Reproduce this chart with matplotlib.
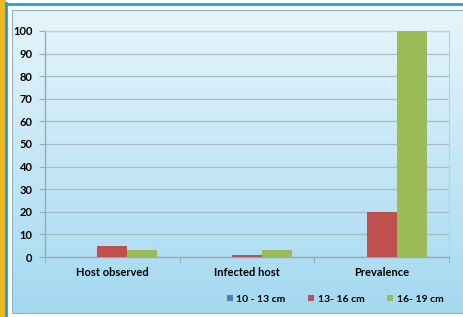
import matplotlib
matplotlib.use("Agg")
import matplotlib.pyplot as plt
import matplotlib.patches as patches
import numpy as np

plt.rcParams["font.family"] = ["Lato", "DejaVu Sans"]

categories = ["Host observed", "Infected host", "Prevalence"]
series_names = ["10 - 13 cm", "13- 16 cm", "16- 19 cm"]
size_10_13 = [0, 0, 0]
size_13_16 = [5, 1, 20]
size_16_19 = [3, 3, 100]
colors = ["#4f81bd", "#c0504d", "#9bbb59"]

W, H = 464, 317
fig = plt.figure(figsize=(W / 100, H / 100), dpi=100)

# background frame: yellow strip, blue border, gradient panel
bg = fig.add_axes([0, 0, 1, 1])
bg.set_xlim(0, W)
bg.set_ylim(H, 0)
bg.axis("off")
bg.add_patch(patches.Rectangle((0, 0), W, H, color="white", zorder=0))
grad = np.linspace(0, 1, 256).reshape(-1, 1)
top_c = np.array([0.90, 0.96, 0.985])
bot_c = np.array([0.64, 0.85, 0.94])
img = top_c + (bot_c - top_c) * grad[:, :, None]
img = img.reshape(256, 1, 3)
bg.imshow(img, extent=(12, W, 313, 10), aspect="auto", zorder=1)
bg.add_patch(patches.Rectangle((12, 10), W - 12, 303, fill=False,
                               edgecolor="#8fb4c4", lw=0.8, zorder=2))
bg.add_patch(patches.Rectangle((0, 0), 5.5, H, color="#f0b81c", zorder=3))
bg.plot([6, 6], [3, H], color="#1aa0dc", lw=2, zorder=3)
bg.plot([6, W], [4, 4], color="#1aa0dc", lw=2, zorder=3)

ax = fig.add_axes([45 / W, 1 - 257 / H, (449 - 45) / W, (257 - 31) / H])
ax.patch.set_alpha(0)

x = np.arange(len(categories))
w = 0.223
for i, (vals, name) in enumerate(zip([size_10_13, size_13_16, size_16_19], series_names)):
    ax.bar(x + (i - 1) * w, vals, w, color=colors[i], label=name, zorder=3)

ax.set_xlim(-0.5, 2.5)
ax.set_ylim(0, 100)
ax.set_yticks(range(0, 101, 10))
ax.yaxis.grid(True, color="#a9bcc4", lw=0.9, zorder=0)
ax.set_xticks(x)
ax.set_xticklabels(categories, fontsize=8, fontweight="bold")
ax.set_xticks([-0.5, 0.5, 1.5, 2.5], minor=True)
ax.tick_params(axis="x", which="major", length=0, pad=7)
ax.tick_params(axis="x", which="minor", length=4, color="#9aa9b0")
ax.tick_params(axis="y", length=4, color="#9aa9b0", labelsize=8, pad=5)
for lab in ax.get_yticklabels():
    lab.set_fontweight("bold")
for s in ["top", "right"]:
    ax.spines[s].set_color("#b5d3df")
    ax.spines[s].set_linewidth(0.8)
for s in ["left", "bottom"]:
    ax.spines[s].set_color("#9aa9b0")
    ax.spines[s].set_linewidth(1.0)

ax.legend(loc="center", bbox_to_anchor=(335 / W, 1 - 299 / H),
          bbox_transform=fig.transFigure, ncol=3, frameon=False,
          prop={"size": 7.5, "weight": "bold"}, handlelength=0.6,
          handleheight=0.6, handletextpad=0.3, columnspacing=2.2)

fig.savefig("out.png", dpi=100)
